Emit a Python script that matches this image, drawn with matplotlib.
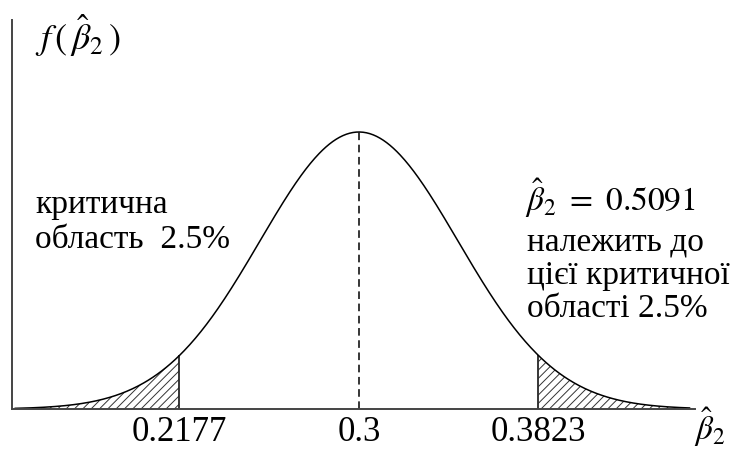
import numpy as np
import matplotlib
matplotlib.use("Agg")
import matplotlib.pyplot as plt

# distribution of beta_2 hat (illustration)
MEAN = 0.3
SIGMA = 0.0454          # spread of the drawn bell curve
CRIT_LOW = 0.2177
CRIT_HIGH = 0.3823
X_RANGE = (0.1409, 0.4541)

tick_values = [CRIT_LOW, MEAN, CRIT_HIGH]
tick_labels = ["0.2177", "0.3", "0.3823"]

left_note = "критична\nобласть  2.5%"
right_head = r"$\hat{\beta}_2\ =\ 0.5091$"
right_note = "належить до\nцієї критичної\nобласті 2.5%"

plt.rcParams["font.family"] = ["Liberation Serif", "DejaVu Serif"]
plt.rcParams["mathtext.fontset"] = "stix"
plt.rcParams["hatch.linewidth"] = 0.7
plt.rcParams["hatch.color"] = "#333333"


def pdf(x):
    return np.exp(-0.5 * ((x - MEAN) / SIGMA) ** 2) / (SIGMA * np.sqrt(2 * np.pi))


W, H = 733, 453
fig = plt.figure(figsize=(W / 100, H / 100), dpi=100)
# axes box in pixel terms: left spine at x=12, baseline at y=409, top at y=20
ax = fig.add_axes([12 / W, 44 / H, (695 - 12) / W, (409 - 20) / H])

x = np.linspace(X_RANGE[0] + 0.0015, X_RANGE[1] - 0.0025, 600)
y = pdf(x)
peak = pdf(MEAN)

ax.plot(x, y, color="black", lw=1.1)

lo = x <= CRIT_LOW
hi = x >= CRIT_HIGH
ax.fill_between(x[lo], 0, y[lo], facecolor="white", hatch="////", edgecolor="#333333", lw=0)
ax.fill_between(x[hi], 0, y[hi], facecolor="white", hatch="////", edgecolor="#333333", lw=0)
ax.vlines([CRIT_LOW, CRIT_HIGH], 0, pdf(np.array([CRIT_LOW, CRIT_HIGH])), color="black", lw=1.1)

ax.vlines(MEAN, 0, peak, color="black", lw=1.1, linestyles=(0, (5.0, 3.0)))

ax.set_xlim(*X_RANGE)
ax.set_ylim(0, peak * 389 / 277)

for side in ["top", "right"]:
    ax.spines[side].set_visible(False)
for side in ["left", "bottom"]:
    ax.spines[side].set_color("#444444")
    ax.spines[side].set_linewidth(1.4)

ax.set_yticks([])
ax.set_xticks(tick_values)
ax.set_xticklabels(tick_labels, fontsize=25)
ax.tick_params(axis="x", length=0, pad=5)

# axis titles
fig.text(35 / W, 1 - 50 / H, r"$f\,(\,\hat{\beta}_2\,)$", fontsize=26, ha="left", va="baseline")
fig.text(694 / W, 1 - 440 / H, r"$\hat{\beta}_2$", fontsize=24, ha="left", va="baseline")

# annotations
fig.text(35 / W, 1 - 248 / H, left_note, fontsize=24, ha="left", va="baseline",
         linespacing=1.2)
fig.text(525 / W, 1 - 211 / H, right_head, fontsize=24, ha="left", va="baseline")
fig.text(527 / W, 1 - 317 / H, right_note, fontsize=24, ha="left", va="baseline",
         linespacing=1.12)

fig.savefig("out.png", dpi=100)
